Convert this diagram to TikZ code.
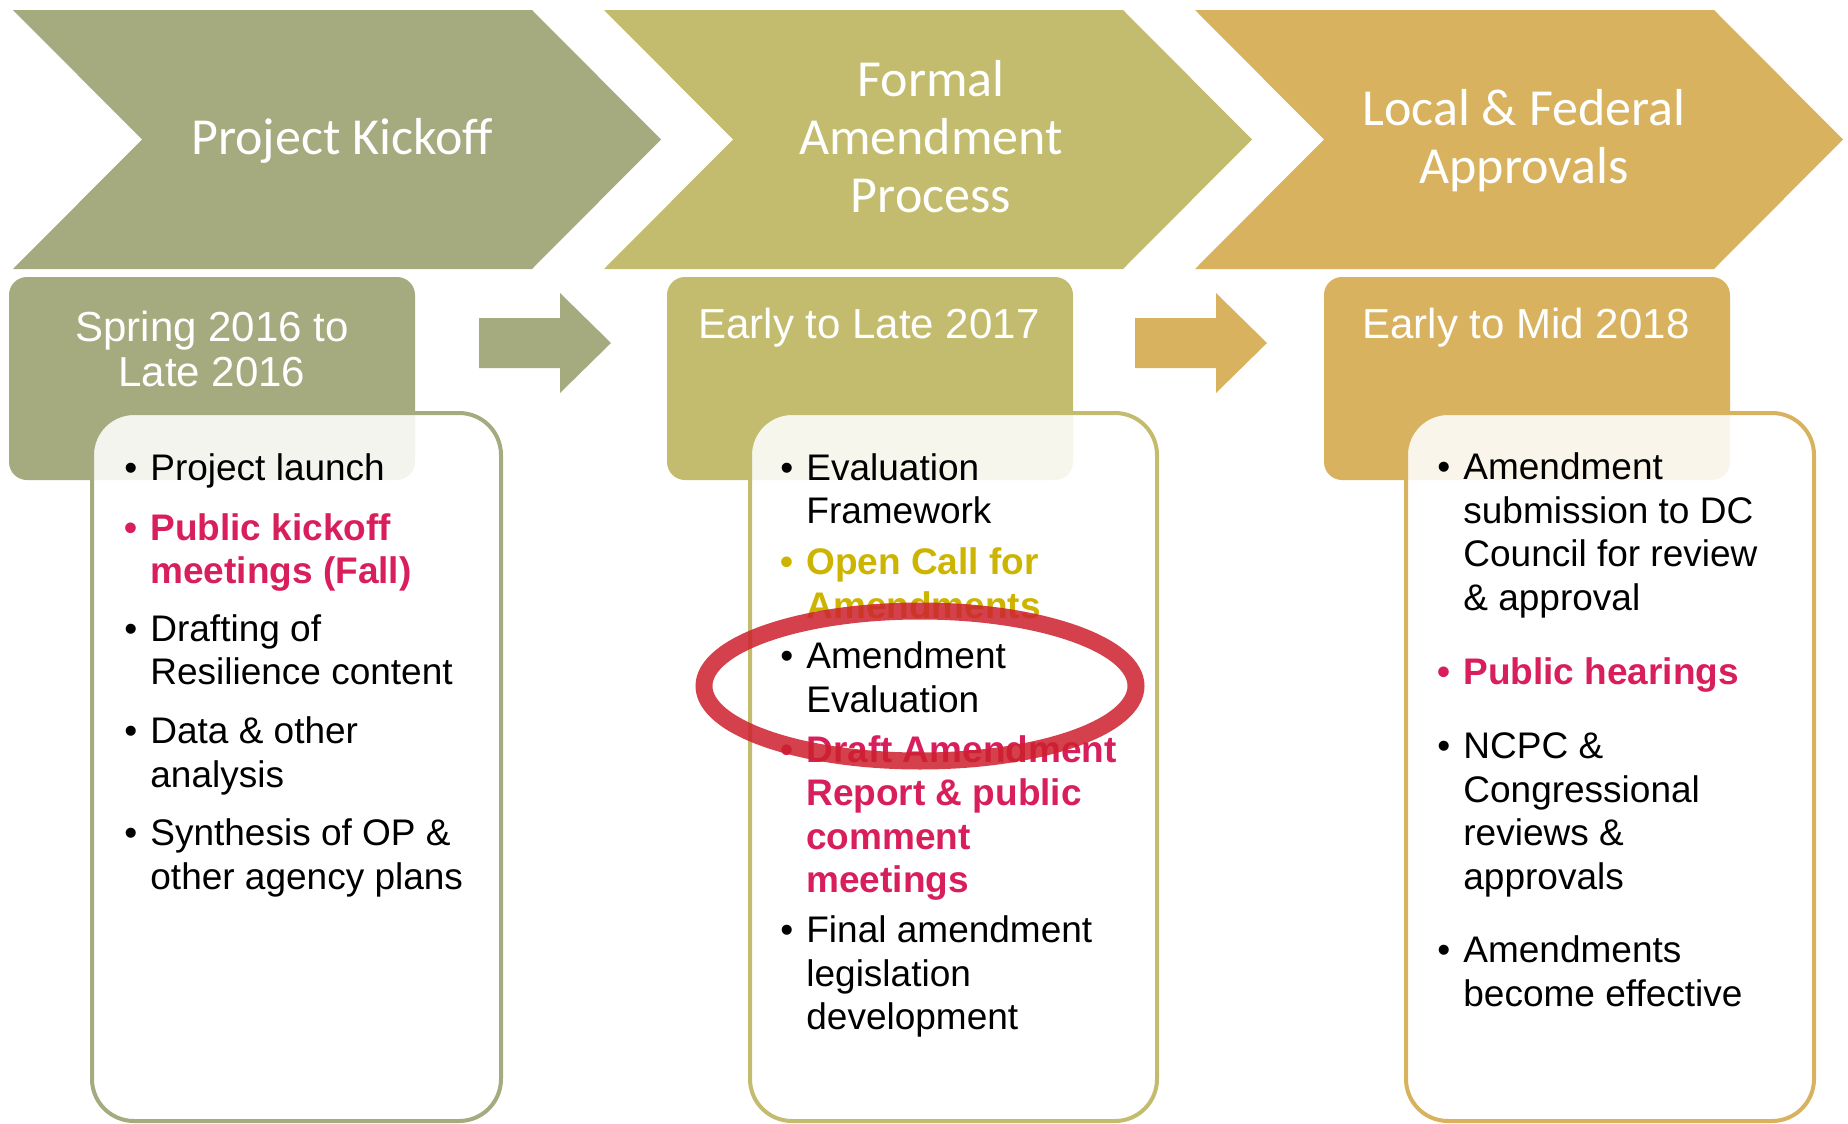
\documentclass[tikz,border=0pt]{standalone}
\usepackage{fontspec}
\setmainfont{Liberation Sans}
\newfontfamily\calib{Carlito}
\usepackage{tikz}

\definecolor{kick}{RGB}{165,170,127}
\definecolor{amend}{RGB}{195,188,110}
\definecolor{appr}{RGB}{216,178,94}
\definecolor{hot}{RGB}{216,30,91}
\definecolor{gold}{RGB}{204,180,0}
\definecolor{ring}{RGB}{205,32,45}

\newcommand\itemsize{\fontsize{18.5pt}{21.75pt}\selectfont}
\newcommand\bul{\llap{\textbullet\hspace{6.5pt}}}

\begin{document}
\begin{tikzpicture}[x=0.5pt,y=-0.5pt,
    head/.style={text=white,font=\calib\fontsize{26pt}{29pt}\selectfont,align=center,anchor=base,inner sep=0pt},
    date/.style={text=white,font=\fontsize{21pt}{22.5pt}\selectfont,align=center,anchor=base,inner sep=0pt},
    item/.style={font=\itemsize,align=left,anchor=base west,inner sep=0pt},
    hotitem/.style={item,text=hot,font=\itemsize\bfseries},
    card/.style={draw=#1,line width=2pt,fill=white,fill opacity=0.88,rounded corners=21pt}]

\useasboundingbox (0,0) rectangle (1848,1124);

% chevrons
\foreach \x/\c in {0/kick,591/amend,1182/appr}
  \fill[\c,shift={(\x,0)}] (13,10) -- (532,10) -- (661,139.5) -- (532,269) -- (13,269) -- (142,139.5) -- cycle;

% date boxes
\foreach \x/\c in {0/kick,658/amend,1315/appr}
  \fill[\c,rounded corners=9pt,shift={(\x,0)}] (9,277) rectangle (415,480);

% block arrows
\foreach \x/\c in {0/kick,656/appr}
  \fill[\c,shift={(\x,0)}] (479,318) -- (560,318) -- (560,293) -- (611,343) -- (560,393) -- (560,368) -- (479,368) -- cycle;

% cards
\draw[card=kick] (92,413) rectangle (501,1121);
\draw[card=amend] (750,413) rectangle (1157,1121);
\draw[card=appr] (1406,413) rectangle (1814,1121);

% multi-line nodes are placed at the baseline of their last line
\node[head] (h1) at (342,154) {Project Kickoff};
\node[head] (h2) at (931,212) {Formal\\Amendment\\Process};
\node[head] (h3) at (1524,183) {Local \& Federal\\Approvals};

\node[date] (d1) at (212,386) {Spring 2016 to\\Late 2016};
\node[date] (d2) at (869,338) {Early to Late 2017};
\node[date] (d3) at (1526,338) {Early to Mid 2018};

% kickoff
\node[item] (a1) at (150,480) {\bul Project launch};
\node[hotitem] (a2) at (150,583.5) {\bul Public kickoff\\meetings (Fall)};
\node[item] (a3) at (150,684.5) {\bul Drafting of\\Resilience content};
\node[item] (a4) at (150,787) {\bul Data \& other\\analysis};
\node[item] (a5) at (150,889) {\bul Synthesis of OP \&\\other agency plans};

% amendment process
\node[item] (b1) at (806,523.5) {\bul Evaluation\\Framework};
\node[hotitem,text=gold] (b2) at (806,618) {\bul Open Call for\\Amendments};
\node[item] (b3) at (806,712) {\bul Amendment\\Evaluation};
\node[hotitem] (b4) at (806,892.5) {\bul Draft Amendment\\Report \& public\\comment\\meetings};
\node[item] (b5) at (806,1029.5) {\bul Final amendment\\legislation\\development};

% approvals
\node[item] (c1) at (1463,610) {\bul Amendment\\submission to DC\\Council for review\\\& approval};
\node[hotitem] (c2) at (1463,684) {\bul Public hearings};
\node[item] (c3) at (1463,889) {\bul NCPC \&\\Congressional\\reviews \&\\approvals};
\node[item] (c4) at (1463,1006) {\bul Amendments\\become effective};

\draw[ring,line width=8.5pt,draw opacity=0.85] (920,686) ellipse [x radius=108pt,y radius=37.5pt];
\end{tikzpicture}
\end{document}
